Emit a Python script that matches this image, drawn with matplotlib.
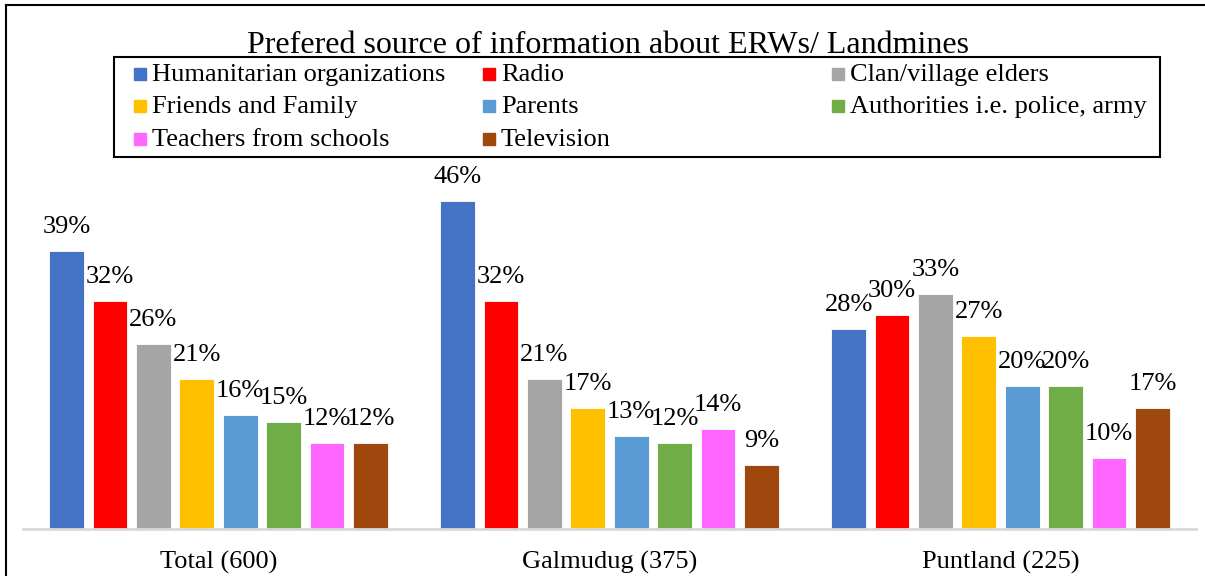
import matplotlib.pyplot as plt
from matplotlib.patches import Rectangle

plt.rcParams['font.family'] = ['Liberation Serif', 'DejaVu Serif']

# données
regions = ['Total (600)', 'Galmudug (375)', 'Puntland (225)']
sources = ['Humanitarian organizations', 'Radio', 'Clan/village elders',
           'Friends and Family', 'Parents', 'Authorities i.e. police, army',
           'Teachers from schools', 'Television']
humanitarian = [39, 46, 28]
radio = [32, 32, 30]
elders = [26, 21, 33]
friends = [21, 17, 27]
parents = [16, 13, 20]
authorities = [15, 12, 20]
teachers = [12, 14, 10]
television = [12, 9, 17]
series = [humanitarian, radio, elders, friends, parents, authorities, teachers, television]
colors = ['#4472C4', '#FF0000', '#A5A5A5', '#FFC000',
          '#5B9BD5', '#70AD47', '#FF66FF', '#9E480E']

fig = plt.figure(figsize=(12.05, 5.76), dpi=100)
ax = fig.add_axes([23/1205, 47/576, 1173/1205, 353/576])

pitch = 0.111
width = 0.0895
for i, vals in enumerate(series):
    xs = [k + (i - 3.5) * pitch for k in range(len(regions))]
    bars = ax.bar(xs, [v / 100 for v in vals], width, color=colors[i],
                  edgecolor='white', linewidth=0.6)
    for b, v in zip(bars, vals):
        ax.annotate(f'{v}%', (b.get_x() + b.get_width() / 2, b.get_height()),
                    xytext=(0, 13), textcoords='offset points',
                    ha='center', va='baseline', fontsize=19)

ax.set_xlim(-0.5, 2.5)
ax.set_ylim(0, 0.495)
ax.set_xticks(range(len(regions)))
ax.set_xticklabels(regions, fontsize=19)
ax.tick_params(axis='x', length=0, pad=16)
ax.set_yticks([])
for s in ['top', 'right', 'left']:
    ax.spines[s].set_visible(False)
ax.spines['bottom'].set_color('#D9D9D9')
ax.spines['bottom'].set_linewidth(2)

# titre
fig.text(608/1205, 1 - 53/576, 'Prefered source of information about ERWs/ Landmines',
         ha='center', va='baseline', fontsize=23)

# légende (cadre + 3 colonnes)
fig.patches.append(Rectangle((114/1205, 1 - 157/576), (1160 - 114)/1205, 100/576,
                             transform=fig.transFigure, fill=False,
                             edgecolor='black', linewidth=1.5))
col_x = [134, 483, 832]
row_y = [74, 106, 139]
for j, (lab, c) in enumerate(zip(sources, colors)):
    r, k = divmod(j, 3)
    fig.patches.append(Rectangle((col_x[k]/1205, 1 - (row_y[r] + 6)/576), 12/1205, 12/576,
                                 transform=fig.transFigure, color=c))
    fig.text((col_x[k] + 18)/1205, 1 - (row_y[r] + 1)/576, lab,
             ha='left', va='center', fontsize=19)

# cadre extérieur
fig.add_artist(plt.Line2D([6/1205, 1], [1 - 5/576, 1 - 5/576], transform=fig.transFigure,
                          color='black', linewidth=1.5))
fig.add_artist(plt.Line2D([6/1205, 6/1205], [0, 1 - 5/576], transform=fig.transFigure,
                          color='black', linewidth=1.5))

plt.savefig('out.png')
